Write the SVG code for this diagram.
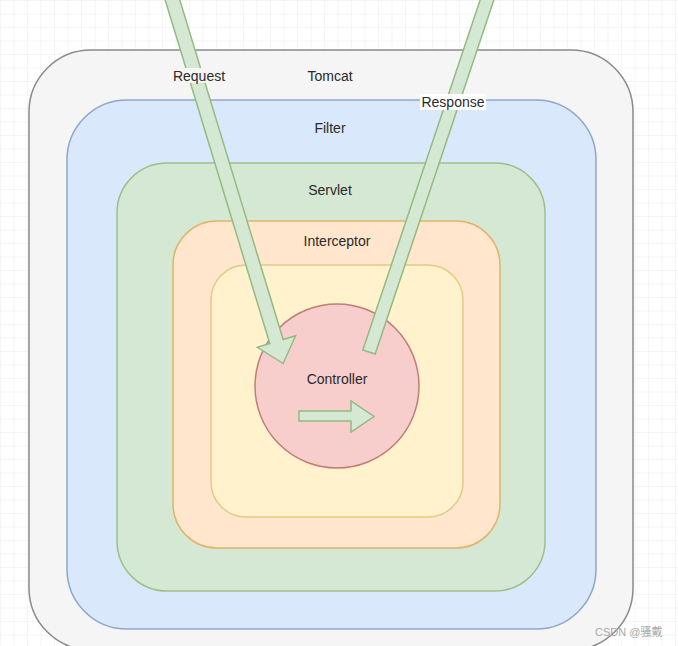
<svg xmlns="http://www.w3.org/2000/svg" width="678" height="646" viewBox="0 0 678 646">
  <defs>
    <pattern id="grid" width="13.5" height="13.5" patternUnits="userSpaceOnUse">
      <path d="M13.5 0 L0 0 L0 13.5" fill="none" stroke="#ebebeb" stroke-width="1"/>
    </pattern>
    <style>
      .lbl { font-family: "Liberation Sans", Arial, Helvetica, sans-serif; font-size: 14px; fill: #2a2a2a; text-anchor: middle; }
      .box { stroke-width: 1.5; }
      .arrow { fill: #d5e8d4; stroke: #93bb80; stroke-width: 1.5; stroke-linejoin: miter; }
      .wm { font-family: "Liberation Sans", Arial, "Noto Sans CJK SC", sans-serif; font-size: 11px; fill: #a8a8a8; }
    </style>
  </defs>

  <rect width="678" height="646" fill="#ffffff"/>
  <rect width="678" height="646" fill="url(#grid)"/>

  <g id="tomcat">
    <rect class="box" x="29" y="50" width="604" height="600" rx="62" fill="#f5f5f5" stroke="#8a8a8a"/>
    <text class="lbl" x="330" y="81">Tomcat</text>
  </g>
  <g id="filter">
    <rect class="box" x="67" y="100" width="529" height="529" rx="60" fill="#dae8fc" stroke="#8ea6c9"/>
    <text class="lbl" x="330" y="133">Filter</text>
  </g>
  <g id="servlet">
    <rect class="box" x="117" y="163" width="428" height="428" rx="50" fill="#d5e8d4" stroke="#9dc08a"/>
    <text class="lbl" x="330" y="195">Servlet</text>
  </g>
  <g id="interceptor">
    <rect class="box" x="173" y="221" width="327" height="327" rx="44" fill="#ffe6cc" stroke="#e0b46a"/>
    <text class="lbl" x="337" y="246">Interceptor</text>
  </g>
  <g id="handler">
    <rect class="box" x="211" y="265" width="252" height="252" rx="35" fill="#fff2cc" stroke="#e2cb85"/>
  </g>
  <g id="controller">
    <circle class="box" cx="337" cy="386" r="82" fill="#f8cecc" stroke="#c27b77"/>
    <text class="lbl" x="337" y="384">Controller</text>
  </g>

  <g id="connectors">
    <g id="request" transform="translate(172.5,0) rotate(73.07)">
      <polygon class="arrow" points="-20,-7 357,-7 357,-20 380,0 357,20 357,7 -20,7"/>
    </g>
    <rect x="171" y="68" width="56" height="15" fill="#f5f5f5"/>
    <text class="lbl" x="199" y="81">Request</text>

    <g id="response" transform="translate(369,352) rotate(-71.47)">
      <rect class="arrow" x="0" y="-6.5" width="420" height="13"/>
    </g>
    <rect x="420" y="94" width="66" height="16" fill="#ffffff"/>
    <text class="lbl" x="453" y="107">Response</text>

    <polygon id="forward" class="arrow" points="299,411 351,411 351,401 374,416.5 351,432 351,421 299,421"/>
  </g>

  <text class="wm" x="595" y="636">CSDN @骚戴</text>
</svg>
